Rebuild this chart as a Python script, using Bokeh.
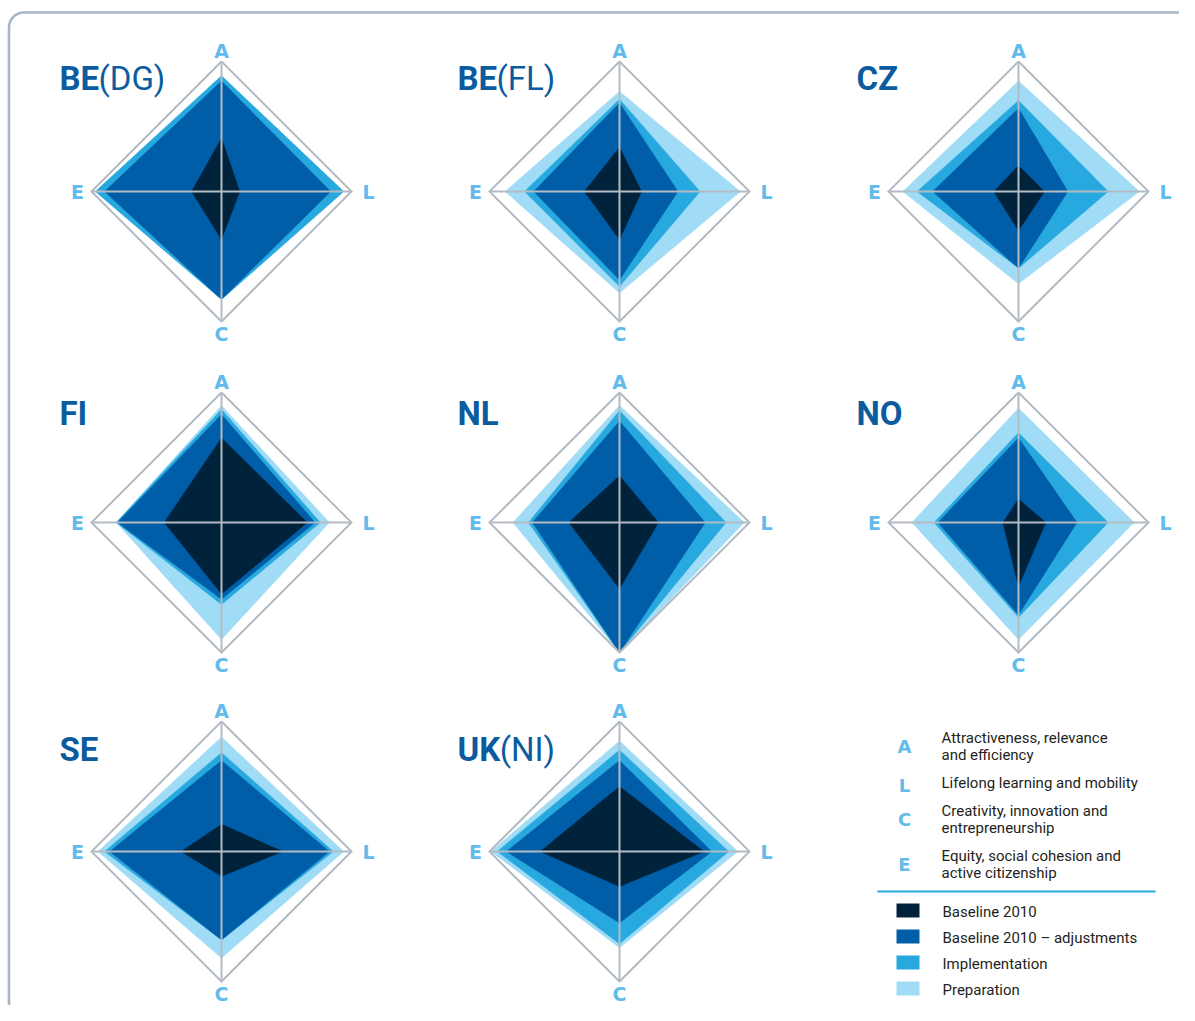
import numpy as np
from bokeh.plotting import figure
from bokeh.models import Range1d
from bokeh.core.properties import value
from bokeh.embed import file_html
from bokeh.resources import INLINE

# ---------------- data ----------------
axis_letters = ["A", "L", "C", "E"]          # up, right, down, left
title_main = ["BE", "BE", "CZ", "FI", "NL", "NO", "SE", "UK"]
title_sub = ["(DG)", "(FL)", "", "", "", "", "", "(NI)"]

# share of each axis reached (0-100), order A, L, C, E
baseline = [[41, 14, 37, 23], [34, 17, 37, 27], [20, 20, 30, 19], [65, 66, 55, 44],
            [36, 30, 51, 39], [18, 21, 49, 12], [21, 47, 19, 31], [50, 65, 27, 61]]
adjustments = [[85, 84, 83, 90], [68, 45, 68, 66], [64, 38, 59, 66], [83, 72, 59, 80],
               [78, 66, 100, 67], [65, 45, 71, 62], [70, 83, 68, 86], [70, 71, 55, 87]]
implementation = [[89, 94, 83, 97], [71, 62, 73, 73], [70, 69, 59, 78], [87, 76, 63, 81],
                  [86, 82, 100, 70], [69, 69, 73, 65], [76, 86, 68, 90], [78, 84, 71, 94]]
preparation = [[89, 94, 83, 97], [77, 93, 78, 88], [85, 93, 71, 89], [90, 83, 90, 81],
               [90, 96, 100, 82], [88, 89, 90, 82], [88, 94, 82, 95], [85, 91, 74, 99]]

series_names = ["Baseline 2010", "Baseline 2010 \u2013 adjustments", "Implementation", "Preparation"]
series_colors = ["#00223a", "#005ea9", "#27a9e0", "#a0dcf6"]

axis_descriptions = [["Attractiveness, relevance", "and efficiency"],
                     ["Lifelong learning and mobility"],
                     ["Creativity, innovation and", "entrepreneurship"],
                     ["Equity, social cohesion and", "active citizenship"]]

# ---------------- layout ----------------
W, H = 1179, 1005
col_x = [221, 619, 1018]
row_y = [191, 522, 851]
title_mid = [78, 413, 749]
R = 130
TITLE_SIZE = 33
# approximate Roboto Bold advance widths (em) for placing the regular suffix
BOLD_ADV = {"B": 0.627, "E": 0.553, "U": 0.649, "K": 0.629}

TITLE_C = "#0b5c9e"
LABEL_C = "#62bbea"
GRID_C = "#b4bbc3"
TEXT_C = "#231f20"
SANS = value("Roboto")
BOLDF = value("DejaVu Sans")

p = figure(width=W, height=H, output_backend="svg", toolbar_location=None,
           x_range=Range1d(0, W), y_range=Range1d(H, 0),
           x_axis_location=None, y_axis_location=None, min_border=0,
           background_fill_color="white", border_fill_color="white")
p.grid.visible = False
p.outline_line_color = None

# frame border with rounded top-left corner
rad = 15
bx, by = 8.5, 12
t = np.linspace(np.pi, 1.5 * np.pi, 20)
arc_x = list(bx + rad + rad * np.cos(t))
arc_y = list(by + rad + rad * np.sin(t))
p.line([bx] + arc_x + [1300], [1100] + arc_y + [by], line_color="#a9b6c8", line_width=2.6)

centers = [(col_x[i % 3], row_y[i // 3]) for i in range(8)]


def poly(vals, c):
    cx, cy = c
    a, l, cc, e = [v / 100 * R for v in vals]
    return [cx, cx + l, cx, cx - e], [cy - a, cy, cy + cc, cy]


# polygons: Preparation first (bottom), Baseline last (top)
for data, color in [(preparation, series_colors[3]), (implementation, series_colors[2]),
                    (adjustments, series_colors[1]), (baseline, series_colors[0])]:
    xs, ys = [], []
    for vals, c in zip(data, centers):
        px, py = poly(vals, c)
        xs.append(px)
        ys.append(py)
    p.patches(xs, ys, fill_color=color, line_color=color, line_width=0.5)

# grid: outer diamond and cross
gx, gy, sx0, sy0, sx1, sy1 = [], [], [], [], [], []
for c in centers:
    px, py = poly([100, 100, 100, 100], c)
    gx.append(px + [px[0]])
    gy.append(py + [py[0]])
    sx0 += [c[0], c[0] - R]
    sy0 += [c[1] - R, c[1]]
    sx1 += [c[0], c[0] + R]
    sy1 += [c[1] + R, c[1]]
p.multi_line(gx, gy, line_color=GRID_C, line_width=2, line_join="miter")
p.segment(sx0, sy0, sx1, sy1, line_color=GRID_C, line_width=2)

# axis letters
lx, ly, lt = [], [], []
for c in centers:
    cx, cy = c
    lx += [cx, cx + 147, cx, cx - 144]
    ly += [cy - 141, cy, cy + 142, cy]
    lt += axis_letters
p.text(lx, ly, text=lt, text_font=BOLDF, text_font_style="bold", text_font_size="19px",
       text_color=LABEL_C, text_align="center", text_baseline="middle")

# titles
tx = [centers[i][0] - 162 for i in range(8)]
ty = [title_mid[i // 3] for i in range(8)]
p.text(tx, ty, text=title_main, text_font=SANS, text_font_style="bold",
       text_font_size=f"{TITLE_SIZE}px", text_color=TITLE_C, text_align="left", text_baseline="middle")
sub_idx = [i for i in range(8) if title_sub[i]]
sub_x = [tx[i] + TITLE_SIZE * sum(BOLD_ADV.get(ch, 0.6) for ch in title_main[i]) for i in sub_idx]
p.text(sub_x, [ty[i] for i in sub_idx],
       text=[title_sub[i] for i in sub_idx], text_font=SANS, text_font_style="normal",
       text_font_size=f"{TITLE_SIZE}px", text_color=TITLE_C, text_align="left", text_baseline="middle")

# legend: axis descriptions (text centres)
leg_x_letter, leg_x_text = 904, 941
line_h = 17
gap = 12
yc = 737.5
letter_y, desc_x, desc_y, desc_t = [], [], [], []
for lines in axis_descriptions:
    n = len(lines)
    for k, s in enumerate(lines):
        desc_x.append(leg_x_text)
        desc_y.append(yc + k * line_h)
        desc_t.append(s)
    letter_y.append(yc + (n - 1) * line_h / 2 + (2 if n == 1 else 0))
    yc += (n - 1) * line_h + line_h + gap - 1
p.text([leg_x_letter] * 4, letter_y, text=axis_letters, text_font=BOLDF, text_font_style="bold",
       text_font_size="18px", text_color=LABEL_C, text_align="center", text_baseline="middle")
p.text(desc_x, desc_y, text=desc_t, text_font=SANS, text_font_size="15px",
       text_color=TEXT_C, text_align="left", text_baseline="middle")

p.segment([877], [891], [1155], [891], line_color="#27a9e0", line_width=2.2)

# legend: series
sw_y = [910 + 26 * k for k in range(4)]
p.rect([907.5] * 4, sw_y, width=23, height=14, fill_color=series_colors, line_color=None)
p.text([942] * 4, [y + 1 for y in sw_y], text=series_names, text_font=SANS, text_font_size="15px",
       text_color=TEXT_C, text_align="left", text_baseline="middle")

open("out.html", "w").write(file_html(p, INLINE))
